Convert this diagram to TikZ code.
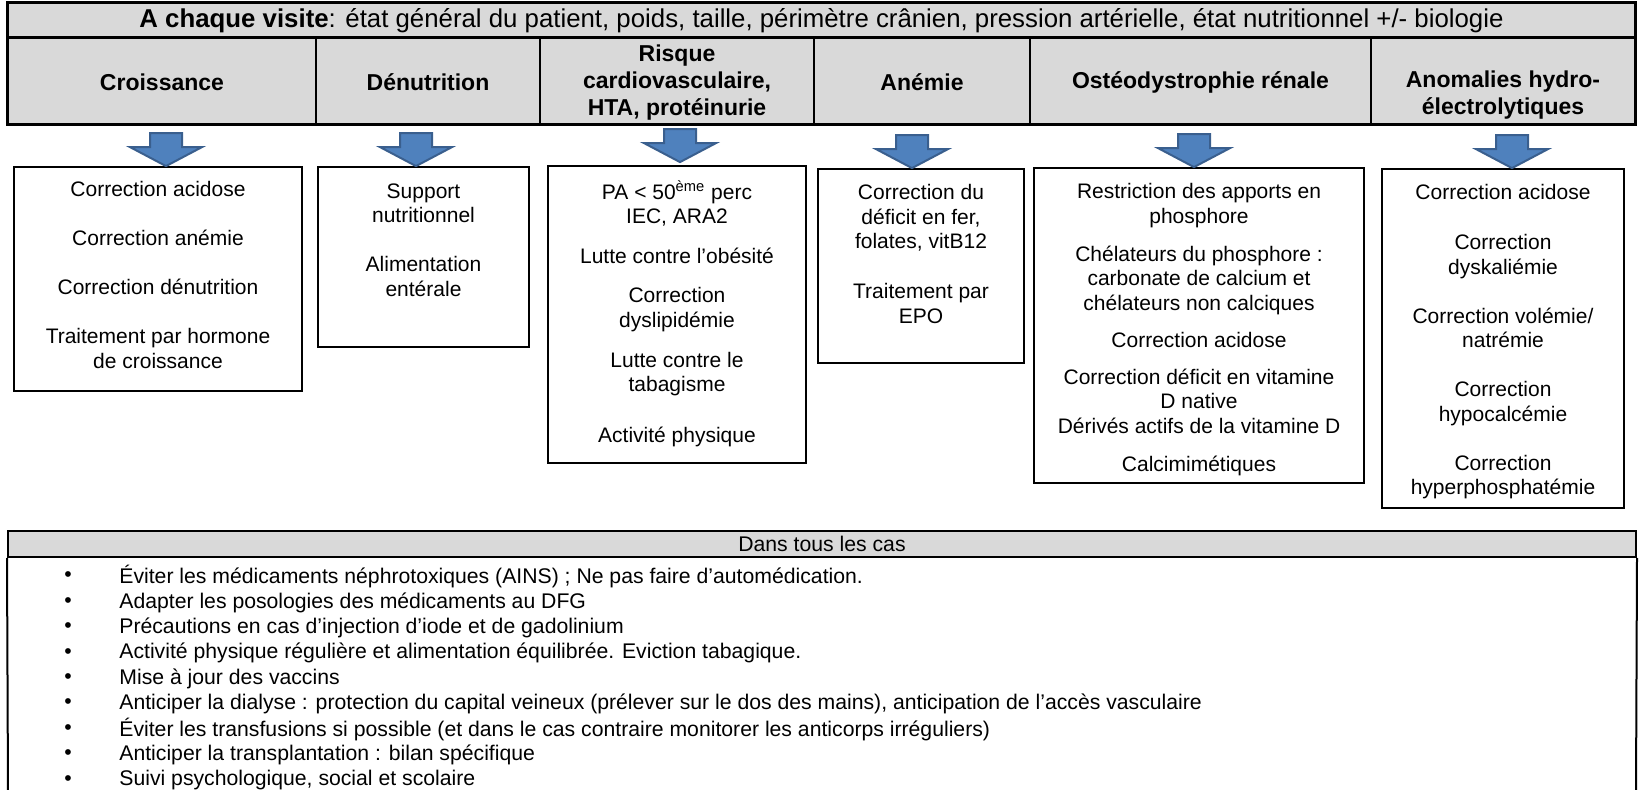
\documentclass[tikz,border=0pt]{standalone}
\usepackage{fontspec}
\setmainfont{Liberation Sans}
\usetikzlibrary{fit,calc}
\definecolor{hdrgray}{HTML}{D9D9D9}
\definecolor{arrfill}{HTML}{4F81BD}
\definecolor{arredge}{HTML}{3A5F8E}
\tikzset{
  cell/.style={draw, fill=hdrgray, line width=0.7pt, inner sep=0pt},
  box/.style={draw, line width=0.9pt, inner sep=0pt},
  htext/.style={font=\fontsize{11.5}{13.5}\selectfont\bfseries, align=center, inner sep=0pt},
  btext/.style={font=\fontsize{10.5}{12.25}\selectfont, align=center, inner sep=0pt, anchor=north, execute at begin node=\strut},
  ltext/.style={font=\fontsize{10.6}{12.7}\selectfont, inner sep=0pt, anchor=west},
  bullettext/.style={font=\fontsize{10.6}{12.7}\selectfont, inner sep=0pt},
  downarrow/.pic={\draw[fill=arrfill, draw=arredge, line width=1pt, line join=miter]
     (0,0) -- (-36,-19) -- (-16,-19) -- (-16,-33) -- (16,-33) -- (16,-19) -- (36,-19) -- cycle;}
}
\begin{document}
\begin{tikzpicture}[x=0.5pt,y=-0.5pt]
\useasboundingbox (0,0) rectangle (1639,790);

% ---------- top header ----------
\node[cell, fit={(8,3) (1635,37)}] (top) {};
\node[cell, fit={(8,37) (316,124)}] (h1) {};
\node[cell, fit={(316,37) (540,124)}] (h2) {};
\node[cell, fit={(540,37) (814,124)}] (h3) {};
\node[cell, fit={(814,37) (1030,124)}] (h4) {};
\node[cell, fit={(1030,37) (1371,124)}] (h5) {};
\node[cell, fit={(1371,37) (1635,124)}] (h6) {};
\draw[line width=1pt] (top.north west) rectangle (h6.south east);
\draw[line width=1pt] (top.south west) -- (top.south east);

\node[font=\fontsize{12.9}{15}\selectfont, inner sep=0pt] (toptxt) at ($(top.center)+(0,1)$)
  {\textbf{A chaque visite}: état général du patient, poids, taille, périmètre crânien, pression artérielle, état nutritionnel +/- biologie};

\node[htext] (h1t) at ($(h1.center)+(0,1.5)$) {Croissance};
\node[htext] (h2t) at ($(h2.center)+(0,1.5)$) {Dénutrition};
\node[htext] (h3t) at ($(h3.center)+(0,2)$) {Risque\\cardiovasculaire,\\HTA, protéinurie};
\node[htext] (h4t) at ($(h4.center)+(0,1.5)$) {Anémie};
\node[htext] (h5t) at ($(h5.center)+(0,1.5)$) {Ostéodystrophie rénale};
\node[htext] (h6t) at ($(h6.center)+(0,14.5)$) {Anomalies hydro-\\électrolytiques};

% ---------- boxes ----------
\node[box, fit={(14,167) (302,391)}] (b1) {};
\node[box, fit={(318,167) (529,347)}] (b2) {};
\node[box, fit={(548,166) (806,463)}] (b3) {};
\node[box, fit={(818,169) (1024,363)}] (b4) {};
\node[box, fit={(1034,168) (1364,483)}] (b5) {};
\node[box, fit={(1382,169) (1624,508)}] (b6) {};

\node[btext] (b1t) at ($(b1.north)+(0,15)$)
  {Correction acidose\\[12.25pt]Correction anémie\\[12.25pt]Correction dénutrition\\[12.25pt]Traitement par hormone\\de croissance};
\node[btext] (b2t) at ($(b2.north)+(0,17)$)
  {Support\\nutritionnel\\[12.25pt]Alimentation\\entérale};
\node[btext] (b3t) at ($(b3.north)+(0,15)$)
  {PA < 50\textsuperscript{ème} perc\\IEC, ARA2\\[7.75pt]Lutte contre l’obésité\\[7.25pt]Correction\\dyslipidémie\\[7.75pt]Lutte contre le\\tabagisme\\[13.25pt]Activité physique};
\node[btext] (b4t) at ($(b4.north)+(0,16)$)
  {Correction du\\déficit en fer,\\folates, vitB12\\[12.75pt]Traitement par\\EPO};
\node[btext] (b5t) at ($(b5.north)+(0,16)$)
  {Restriction des apports en\\phosphore\\[6.75pt]Chélateurs du phosphore :\\carbonate de calcium et\\chélateurs non calciques\\[6.25pt]Correction acidose\\[6.25pt]Correction déficit en vitamine\\D native\\Dérivés actifs de la vitamine D\\[6.75pt]Calcimimétiques};
\node[btext] (b6t) at ($(b6.north)+(0,16)$)
  {Correction acidose\\[12.75pt]Correction\\dyskaliémie\\[12.25pt]Correction volémie/\\natrémie\\[12.25pt]Correction\\hypocalcémie\\[12.25pt]Correction\\hyperphosphatémie};

% ---------- block arrows ----------
\path ([xshift=4pt]b1.north) pic {downarrow};
\path ([xshift=-3.75pt]b2.north) pic {downarrow};
\path ([xshift=1.5pt,yshift=1.5pt]b3.north) pic {downarrow};
\path ([xshift=-4.5pt]b4.north) pic {downarrow};
\path ([xshift=-2.5pt]b5.north) pic {downarrow};
\path ([xshift=4.5pt]b6.north) pic {downarrow};

% ---------- bottom table ----------
\node[cell, line width=1pt, fit={(8,531) (1636,557)}] (bt) {};
\node[font=\fontsize{10.6}{12.7}\selectfont, inner sep=0pt] (btt) at (bt.center) {Dans tous les cas};
\coordinate (blb) at (8,792);
\coordinate (brb) at (1636,792);
\draw[line width=1pt] (bt.south west) -- (blb);
\draw[line width=1pt] (bt.south east) -- (brb);

\node[bullettext] (d1) at (68,577) {•};
\node[bullettext] (d2) at (68,602.4) {•};
\node[bullettext] (d3) at (68,627.8) {•};
\node[bullettext] (d4) at (68,653.2) {•};
\node[bullettext] (d5) at (68,678.6) {•};
\node[bullettext] (d6) at (68,704) {•};
\node[bullettext] (d7) at (68,729.4) {•};
\node[bullettext] (d8) at (68,754.8) {•};
\node[bullettext] (d9) at (68,780.2) {•};

\node[ltext] (l1) at (119,577) {Éviter les médicaments néphrotoxiques (AINS) ; Ne pas faire d’automédication.};
\node[ltext] (l2) at (119,602.4) {Adapter les posologies des médicaments au DFG};
\node[ltext] (l3) at (119,627.8) {Précautions en cas d’injection d’iode et de gadolinium};
\node[ltext] (l4) at (119,653.2) {Activité physique régulière et alimentation équilibrée. Eviction tabagique.};
\node[ltext] (l5) at (119,678.6) {Mise à jour des vaccins};
\node[ltext] (l6) at (119,704) {Anticiper la dialyse : protection du capital veineux (prélever sur le dos des mains), anticipation de l’accès vasculaire};
\node[ltext] (l7) at (119,729.4) {Éviter les transfusions si possible (et dans le cas contraire monitorer les anticorps irréguliers)};
\node[ltext] (l8) at (119,754.8) {Anticiper la transplantation : bilan spécifique};
\node[ltext] (l9) at (119,780.2) {Suivi psychologique, social et scolaire};
\end{tikzpicture}
\end{document}
